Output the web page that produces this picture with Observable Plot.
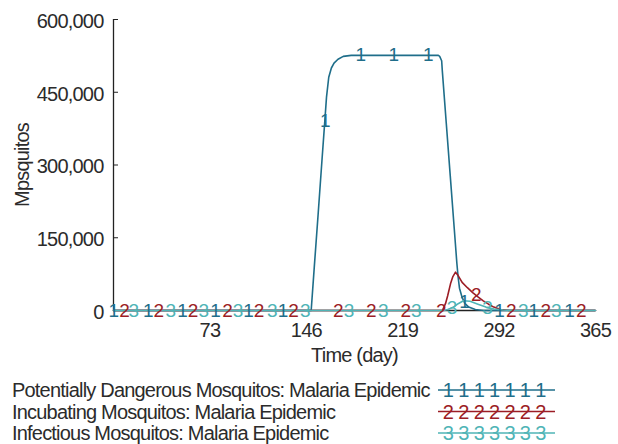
<!DOCTYPE html>
<html><head><meta charset="utf-8">
<script src="https://cdn.jsdelivr.net/npm/d3@7"></script>
<script src="https://cdn.jsdelivr.net/npm/@observablehq/plot@0.6"></script>
<style>
body{margin:0;background:#fff;font-family:"Liberation Sans",Arial,sans-serif;}
#chart svg{display:block}
</style></head><body>
<div id="chart"></div><div id="legend"></div>
<script>
const seriesNames = [
  "Potentially Dangerous Mosquitos: Malaria Epidemic",
  "Incubating Mosquitos: Malaria Epidemic",
  "Infectious Mosquitos: Malaria Epidemic"
];
const seriesMarks = ["1","2","3"];
const seriesColors = ["#1f6e8a","#9c1d25","#4fb4b6"];
const xTicks = [73,146,219,292,365];
const yTicks = [0,150000,300000,450000,600000];
const xLabel = "Time (day)";
const yLabel = "Mpsquitos";

// Potentially dangerous mosquitos
const s1Day = [0,149.7,152,155,158,160,161.3,163,165,167,170,174,180,190,220,246,247,248.5,249,252,255,258,260,261,262,264,266,269,274,280,365];
const s1Val = [0,0,88000,200000,315000,390000,440000,481000,500000,510000,518000,524000,526000,526000,526000,526000,524000,515000,494000,386000,278000,170000,98000,68000,46000,27000,15000,7000,2000,0,0];
// Incubating mosquitos
const s2Day = [0,249,251.4,253,255.2,257,259,261,264,268,272,276,280,284,288,293,300,365];
const s2Val = [0,0,14000,30000,55000,70000,79000,72000,58000,47000,37000,28000,20000,13000,7000,2000,0,0];
// Infectious mosquitos
const s3Day = [0,250,253,257,261,265,270,276,282,288,295,302,365];
const s3Val = [0,0,2000,6000,14000,20000,19000,13000,7000,3000,1000,0,0];

// day positions of the series number markers
const markerDays1 = [0,26,52,77,102,128,160,187,212,238,265.5,292,318,345];
const markerDays2 = [8,34,60,86,110,136,170,195,221,248,274.5,301,327,354];
const markerDays3 = [15,43,68,94,120,145,178,204,229,256,283,310,335];

const days = [s1Day,s2Day,s3Day];
const vals = [s1Val,s2Val,s3Val];
const mdays = [markerDays1,markerDays2,markerDays3];

const rows = [];
const markers = [];
seriesNames.forEach((name,i)=>{
  days[i].forEach((d,j)=>rows.push({series:name, day:d, value:vals[i][j]}));
  const f = d3.scaleLinear().domain(days[i]).range(vals[i]);
  mdays[i].forEach(d=>markers.push({series:name, day:d, value:f(d), label:seriesMarks[i]}));
});

const FONT = "'Liberation Sans', Arial, sans-serif";
const chart = Plot.plot({
  width:618, height:370,
  marginLeft:113, marginRight:23, marginTop:19, marginBottom:60,
  style:{fontFamily:FONT, fontSize:"20px", letterSpacing:"-0.8px", color:"#2b2b2b", background:"white"},
  x:{domain:[0,365]},
  y:{domain:[0,600000]},
  color:{domain:seriesNames, range:seriesColors},
  marks:[
    Plot.ruleX([0],{y1:0, y2:600000, stroke:"#222", strokeWidth:1.3}),
    Plot.ruleY([0],{x1:0, x2:365, stroke:"#222", strokeWidth:1.3}),
    Plot.axisY({ticks:yTicks, tickSize:5, dx:5, tickFormat:()=>"", label:null, stroke:"#222"}),
    Plot.axisY({ticks:yTicks, tickSize:0, tickPadding:10, dy:2, tickFormat:d3.format(","), label:null, fontSize:20, fill:"#2b2b2b"}),
    Plot.axisX({ticks:xTicks, tickSize:0, tickPadding:12, label:null, fontSize:20, fill:"#2b2b2b"}),
    Plot.line(rows,{x:"day", y:"value", z:"series", stroke:"series", strokeWidth:1.6}),
    Plot.text(markers,{x:"day", y:"value", text:"label", fill:"series", fontSize:19}),
    Plot.text([xLabel],{frameAnchor:"bottom", lineAnchor:"middle", textAnchor:"middle", dy:45, fontSize:20, fill:"#2b2b2b"}),
    Plot.text([yLabel],{frameAnchor:"left", lineAnchor:"middle", textAnchor:"middle", dx:-91, rotate:-90, fontSize:20, fill:"#2b2b2b"})
  ]
});
document.getElementById("chart").append(chart);

// legend
const leg = d3.select("#legend").append("svg").attr("width",618).attr("height",74)
  .style("display","block").attr("letter-spacing","-0.8px").attr("font-family",FONT);
seriesNames.forEach((name,i)=>{
  const cy = 20 + 21.5*i;
  leg.append("text").attr("x",12).attr("y",cy).attr("dominant-baseline","central")
    .attr("font-size",20).attr("fill","#2b2b2b").text(name);
  leg.append("line").attr("x1",438).attr("x2",555).attr("y1",cy).attr("y2",cy)
    .attr("stroke",seriesColors[i]).attr("stroke-width",1.6);
  for(let k=0;k<7;k++){
    leg.append("text").attr("x",448+15.4*k).attr("y",cy).attr("dominant-baseline","central")
      .attr("text-anchor","middle").attr("font-size",20).attr("fill",seriesColors[i]).text(seriesMarks[i]);
  }
});
</script>
</body></html>
